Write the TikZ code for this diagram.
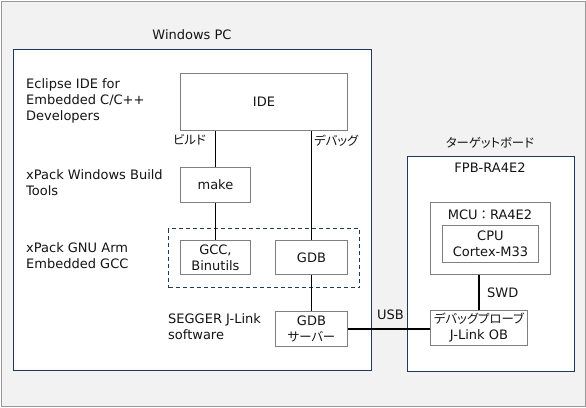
\documentclass[tikz,border=0pt]{standalone}
\usepackage{fontspec}
\setmainfont{DejaVu Sans}
\newfontfamily\jpfont[RawFeature=+palt, Scale=0.95]{Noto Sans CJK JP}
\newfontfamily\jpfull[Scale=0.95]{Noto Sans CJK JP}
\usetikzlibrary{positioning}
\definecolor{frameblue}{HTML}{1F3A5C}
\definecolor{boxgray}{HTML}{7F7F7F}
\definecolor{backgray}{HTML}{F2F2F2}
\definecolor{textdark}{HTML}{141414}
\newcommand\jp[1]{{\jpfont #1}}

\begin{document}
\begin{tikzpicture}[x=1pt, y=-1pt,
    font=\fontsize{13}{16}\selectfont, text=textdark,
    frame/.style={draw=frameblue, line width=1.3pt, fill=white, anchor=north west, inner sep=0pt},
    box/.style={draw=boxgray, line width=0.9pt, fill=white, anchor=north west, align=center, inner sep=1pt},
    caption/.style={align=left, inner sep=0pt, anchor=west},
    link/.style={line width=1.3pt, black}]
  % background
  \draw[boxgray!80, fill=backgray, line width=1pt] (1,1) rectangle (585,406);
  \useasboundingbox (0,0) rectangle (586,407);

  % Windows PC
  \node at (192,35) (pctitle) {Windows PC};
  \node[frame, minimum width=358pt, minimum height=321pt] at (13,49) (pc) {};
  \node[draw=frameblue, line width=1.3pt, dashed, dash pattern=on 4pt off 3pt, anchor=north west,
        minimum width=191pt, minimum height=59pt, inner sep=0pt] at (168,228) (gnu) {};
  \node[box, minimum width=167pt, minimum height=57pt] at (180,73) (ide) {IDE};
  \node[box, minimum width=70pt, minimum height=35pt] at (180,167) (make) {make};
  \node[box, minimum width=70pt, minimum height=34pt] at (180,240) (gcc) {GCC,\\Binutils};
  \node[box, minimum width=72pt, minimum height=34pt] at (275,240) (gdb) {GDB};
  \node[box, minimum width=72pt, minimum height=35pt] at (275,311) (gdbsrv) {GDB\\\jp{サーバー}};

  \node[caption] at (26,101) (eclipse) {Eclipse IDE for\\Embedded C/C++\\Developers};
  \node[caption] at (26,183) (buildtools) {xPack Windows Build\\Tools};
  \node[caption] at (26,256) (armgcc) {xPack GNU Arm\\Embedded GCC};
  \node[caption] at (168,327) (jlink) {SEGGER J-Link\\software};

  % target board
  \node at (490,143) (boardtitle) {\jp{ターゲットボード}};
  \node[frame, minimum width=167pt, minimum height=215pt] at (407,156) (fpb) {};
  \node at (490,168) (fpbtitle) {FPB-RA4E2};
  \node[box, minimum width=120pt, minimum height=72pt] at (430,202) (mcu) {};
  \node at (490,215) (mcutitle) {MCU{\jpfull ：}RA4E2};
  \node[box, minimum width=96pt, minimum height=37pt] at (442,225) (cpu) {CPU\\Cortex-M33};
  \node[box, minimum width=97pt, minimum height=35pt] at (430,310) (probe) {\jp{デバッグプローブ}\\J-Link OB};

  % connections
  \draw[link] (make.north |- ide.south) -- (make.north);
  \draw[link] (make.south) -- (gcc.north);
  \draw[link] (gdb.north |- ide.south) -- (gdb.north);
  \draw[link] (gdb.south) -- (gdbsrv.north);
  \draw[link] (gdbsrv.east) -- (gdbsrv.east -| probe.west);
  \draw[link] (probe.north |- mcu.south) -- (probe.north);

  \node[anchor=east, inner sep=0pt] at (206,140) (build) {\jp{ビルド}};
  \node[anchor=west, inner sep=0pt] at (314,141) (debug) {\jp{デバッグ}};
  \node[anchor=west, inner sep=0pt] at (487,293) (swd) {SWD};
  \node[anchor=west, inner sep=0pt] at (377,315) (usb) {USB};
\end{tikzpicture}
\end{document}
